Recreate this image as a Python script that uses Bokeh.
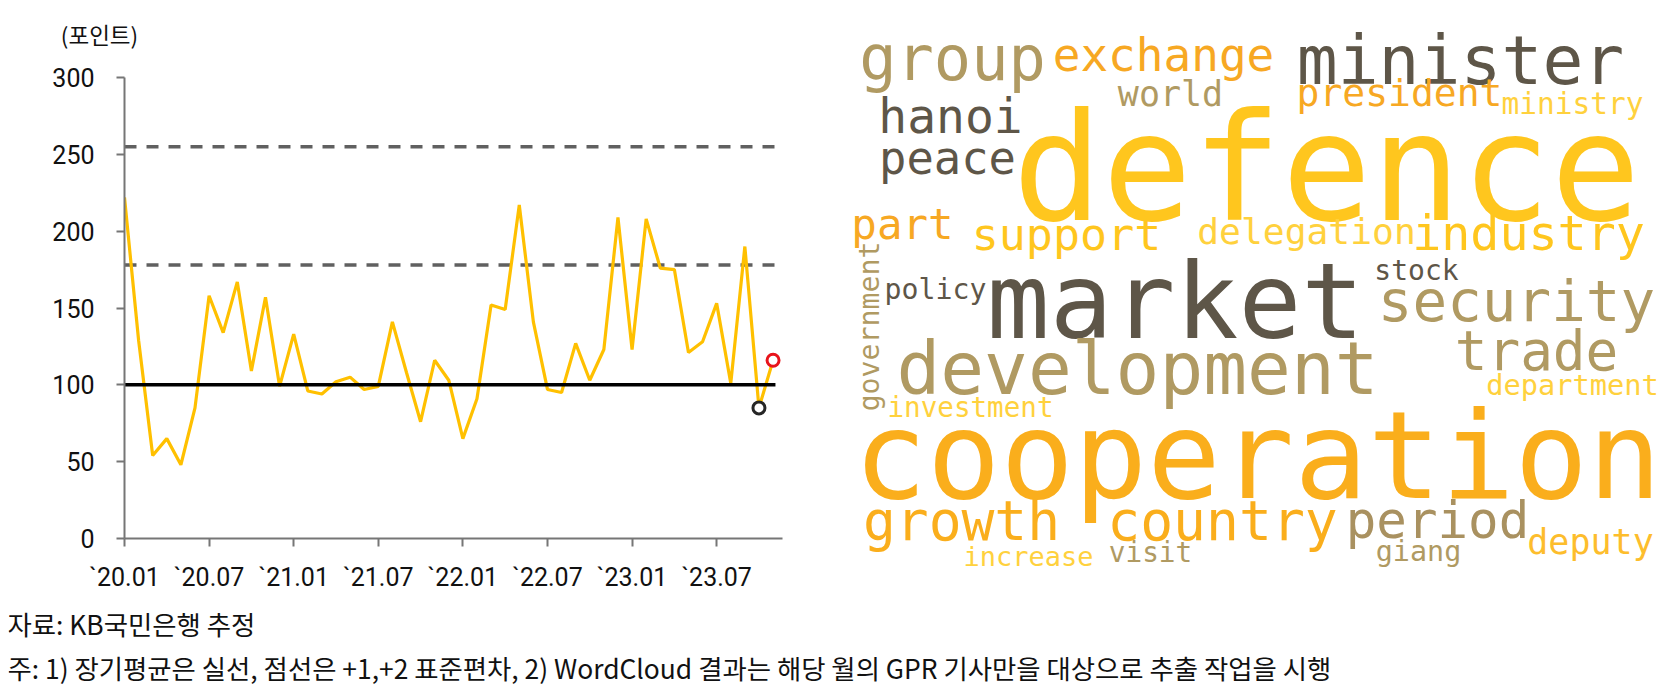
import math
from bokeh.plotting import figure
from bokeh.models import Range1d, FixedTicker, ColumnDataSource, Spacer
from bokeh.layouts import column, row
from bokeh.embed import file_html
from bokeh.resources import INLINE
from bokeh.core.properties import value

# ---------------- data ----------------
# monthly GPR index, 2020.01 .. 2023.11
GPR = [222, 129, 54, 65, 48, 85, 158, 134, 167, 109, 157, 99,
       133, 96, 94, 102, 105, 97, 99, 141, 108, 76, 116, 103,
       65, 91, 152, 149, 217, 141, 97, 95, 127, 103, 123, 209,
       123, 208, 176, 175, 121, 128, 153, 101, 190, 85, 116]
TICK_MONTH_INDEX = [0, 6, 12, 18, 24, 30, 36, 42]
TICK_LABELS = ["`20.01", "`20.07", "`21.01", "`21.07", "`22.01", "`22.07", "`23.01", "`23.07"]
Y_TICKS = [0, 50, 100, 150, 200, 250, 300]
LONG_AVG = 100
SD_PLUS1 = 178
SD_PLUS2 = 255

UNIT_LABEL = "(포인트)"
SOURCE_NOTE = "자료: KB국민은행 추정"
FOOT_NOTE = "주: 1) 장기평균은 실선, 점선은 +1,+2 표준편차, 2) WordCloud 결과는 해당 월의 GPR 기사만을 대상으로 추출 작업을 시행"

# word cloud words
WORDS = ["group", "exchange", "minister", "world", "president", "ministry",
         "hanoi", "peace", "defence", "part", "support", "delegation",
         "industry", "stock", "policy", "market", "security", "trade",
         "development", "department", "investment", "government",
         "cooperation", "growth", "country", "period", "deputy", "giang",
         "increase", "visit"]

# word cloud layout (page pixel placement: word centre x, baseline y)
WC_X = [952, 1163, 1460, 1170, 1399, 1572,
        950, 947, 1326, 902, 1066, 1306,
        1528, 1416, 935, 1175, 1516, 1536,
        1137, 1572, 970, 877,
        1257, 961, 1222, 1437, 1590, 1418,
        1028, 1150]
WC_Y = [77, 68, 80, 104, 104, 112,
        130, 172, 213, 237, 247, 242,
        247, 278, 297, 333, 318, 367,
        390, 393, 415, 326,
        492, 537, 537, 535, 552, 560,
        564, 560]
WC_SIZE = [62, 46, 68, 35, 38, 29.5,
           48, 45.5, 149, 42.5, 45, 36.3,
           48.3, 28, 28.2, 104.5, 57.6, 54.4,
           72.8, 28.7, 27.6, 28.2,
           122, 54.6, 54.7, 50.8, 35, 28.4,
           27, 27.7]
DARK, TAN, ORANGE, GOLD, LIGHT = "#5E5648", "#B09A62", "#F7A823", "#FFC61E", "#FFD13D"
WC_COLOR = [TAN, ORANGE, DARK, TAN, ORANGE, LIGHT,
            DARK, DARK, GOLD, ORANGE, GOLD, LIGHT,
            GOLD, DARK, DARK, DARK, TAN, TAN,
            TAN, LIGHT, LIGHT, TAN,
            "#FAAE1C", "#FAAE1C", "#FAAE1C", "#A99160", "#FDBD2C", TAN,
            LIGHT, TAN]
WC_ROT = [0] * 21 + [math.pi / 2] + [0] * 8

KR_FONT = "Noto Sans CJK KR"
TICK_FONT = "Roboto"
BASELINE_FIX = 0.30   # svg text baseline correction (fraction of font size)


def blank_fig(w, h, x0, y0):
    """figure whose coordinates equal page pixels (y grows downward)"""
    f = figure(width=w, height=h, output_backend="svg", toolbar_location=None,
               x_range=Range1d(x0, x0 + w), y_range=Range1d(y0 + h, y0),
               x_axis_type=None, y_axis_type=None,
               min_border_left=0, min_border_right=0,
               min_border_top=0, min_border_bottom=0)
    f.outline_line_color = None
    f.grid.visible = False
    f.background_fill_color = "white"
    f.border_fill_color = "white"
    f.frame_align = False
    return f


# ---------------- header (unit) ----------------
hdr = blank_fig(830, 50, 8, 8)
hdr.text(x=[99], y=[33], text=[UNIT_LABEL], text_align="center",
         text_baseline="middle", text_font=value(KR_FONT),
         text_font_size="22.5px", text_color="#111111")

# ---------------- line chart ----------------
AXIS_GRAY = "#767676"

n = len(GPR)
x_idx = list(range(n))
line_end = n - 1 + 0.17          # reference lines run just past the last month
p = figure(width=830, height=550, output_backend="svg", toolbar_location=None,
           x_range=Range1d(0, 46.67), y_range=Range1d(0, 300),
           min_border_left=116, min_border_right=56,
           min_border_top=19, min_border_bottom=70)
p.frame_align = False
p.outline_line_color = None
p.grid.visible = False
p.background_fill_color = "white"
p.border_fill_color = "white"

for ax in (p.xaxis[0], p.yaxis[0]):
    ax.axis_line_color = AXIS_GRAY
    ax.axis_line_width = 2
    ax.major_tick_line_color = AXIS_GRAY
    ax.major_tick_line_width = 2
    ax.major_tick_in = 0
    ax.major_tick_out = 8
    ax.minor_tick_line_color = None
    ax.major_label_text_font = TICK_FONT
    ax.major_label_text_font_size = "25px"
    ax.major_label_text_color = "#111111"

p.xaxis.ticker = FixedTicker(ticks=TICK_MONTH_INDEX)
p.xaxis.major_label_overrides = {k: v for k, v in zip(TICK_MONTH_INDEX, TICK_LABELS)}
p.xaxis.major_label_standoff = 16
p.yaxis.ticker = FixedTicker(ticks=Y_TICKS)
p.yaxis.major_label_standoff = 22

for lvl in (SD_PLUS1, SD_PLUS2):
    p.line(x=[0, line_end], y=[lvl, lvl], line_color="#606060",
           line_width=3.5, line_dash="12 10")

p.line(x=x_idx, y=GPR, line_color="#FFC000", line_width=3.2)

p.line(x=[0, line_end], y=[LONG_AVG, LONG_AVG], line_color="#000000",
       line_width=3.5)

p.scatter(x=[x_idx[-2]], y=[GPR[-2]], size=12, marker="circle",
          line_color="#262626", line_width=3, fill_color="white")
p.scatter(x=[x_idx[-1]], y=[GPR[-1]], size=12, marker="circle",
          line_color="#E8141B", line_width=3, fill_color="white")

# ---------------- word cloud ----------------
wc = blank_fig(834, 600, 838, 8)
draw_x = [x - BASELINE_FIX * s * math.sin(a) for x, s, a in zip(WC_X, WC_SIZE, WC_ROT)]
draw_y = [y - BASELINE_FIX * s * math.cos(a) for y, s, a in zip(WC_Y, WC_SIZE, WC_ROT)]
src = ColumnDataSource(dict(x=draw_x, y=draw_y, w=WORDS,
                            fs=[f"{s}px" for s in WC_SIZE],
                            c=WC_COLOR, a=WC_ROT))
wc.text(x="x", y="y", text="w", text_font_size="fs", text_color="c", angle="a",
        text_align="center", text_baseline="alphabetic",
        text_font=value("DejaVu Sans Mono"), source=src)

# ---------------- footnotes ----------------
fn = blank_fig(1664, 80, 8, 608)
fn.text(x=[7, 7], y=[623, 667], text=[SOURCE_NOTE, FOOT_NOTE],
        text_align="left", text_baseline="middle",
        text_font=value(KR_FONT), text_font_size="26.4px",
        text_color="#111111")

content = column(row(column(hdr, p), wc), fn)
layout = row(Spacer(width=8), column(Spacer(height=8), content))
open("out.html", "w").write(file_html(layout, INLINE))
